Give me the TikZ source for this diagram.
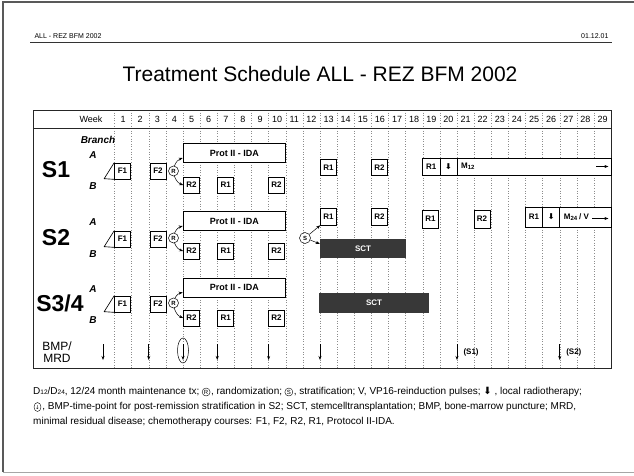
\documentclass[tikz,border=0pt]{standalone}
\usepackage{fontspec}
\setmainfont{Liberation Sans}
\newfontfamily\dejavu{DejaVu Sans}
\usetikzlibrary{arrows.meta,shapes.geometric}

\tikzset{
  gridline/.style={black!45, dash pattern=on 1pt off 1.6pt, line width=0.45pt},
  frameline/.style={black!85, line width=0.7pt},
  course/.style={draw, fill=white, line width=0.65pt, inner sep=0pt,
    minimum width=16pt, minimum height=16pt, font=\fontsize{8}{9}\selectfont\bfseries},
  cell/.style={course, minimum width=17.125pt},
  protbox/.style={draw, fill=white, line width=0.65pt, inner sep=0pt,
    minimum width=102.75pt, minimum height=19pt, font=\fontsize{9}{10}\selectfont\bfseries},
  sctbox/.style={fill=black!78, text=white, inner sep=0pt,
    minimum height=19pt, font=\fontsize{8}{9}\selectfont\bfseries},
  decision/.style={draw, circle, fill=white, line width=0.5pt, inner sep=0pt,
    minimum size=10pt, font=\fontsize{6}{6}\selectfont\bfseries},
  branchlabel/.style={font=\fontsize{10}{11}\selectfont\bfseries\itshape},
  stratum/.style={font=\fontsize{23}{24}\selectfont\bfseries},
  weeknum/.style={font=\fontsize{9}{10}\selectfont},
  flow/.style={-{Stealth[length=4pt,width=3pt]}, line width=0.5pt},
  bmparrow/.style={-{Stealth[length=4pt,width=3pt]}, line width=0.6pt},
  footnote/.style={anchor=west, inner sep=0pt, font=\fontsize{10}{11}\selectfont},
  legcircle/.style={draw, circle, line width=0.4pt, inner sep=0pt, minimum size=8pt,
    font=\fontsize{6}{6}\selectfont},
}
\def\gx{114.5}
\def\wk{17.125}

\begin{document}
\begin{tikzpicture}[x=1pt,y=-1pt]
\useasboundingbox (0,0) rectangle (634,475);

% page frame of the scan
\draw[black!65, line width=1.6pt] (634,2) -- (3,2) -- (3,472);
\draw[black!35, line width=1pt] (3,472) -- (634,472);

% page header and title
\node[anchor=west, font=\fontsize{7}{8}\selectfont] (hdl) at (31,36) {ALL - REZ BFM 2002};
\node[anchor=east, font=\fontsize{7}{8}\selectfont] (hdr) at (612,36) {01.12.01};
\draw[black!80, line width=0.6pt] (30,42.5) -- (612,42.5);
\node[font=\fontsize{21}{24}\selectfont] (title) at (320,74) {Treatment Schedule ALL - REZ BFM 2002};

% week grid
\foreach \i in {0,...,28}
  \draw[gridline] ({\gx+\i*\wk},110) -- ({\gx+\i*\wk},368);
\foreach \i in {1,...,29}
  \node[weeknum] at ({\gx+(\i-0.5)*\wk},119.5) {\i};
\draw[frameline] (33,110) rectangle (611.1,368);
\draw[frameline] (33,128) -- (611.1,128);
\node[weeknum] (week) at (91,119.5) {Week};
\node[branchlabel] (branch) at (98,140) {Branch};

% S1
\node[stratum] (s1) at (56,170) {S1};
\node[branchlabel] at (93,155) {A};
\node[branchlabel] at (93,186) {B};
\node[course] (f1a) at (122.5,171) {F1};
\draw[line width=0.65pt] (f1a.north west) -- ++(-10,16) -- (f1a.south west);
\node[course] (f2a) at (158,171) {F2};
\node[decision] (ra) at (173.5,171) {R};
\node[protbox] (pa) at (234.4,153) {Prot II - IDA};
\node[course] (ra1) at (191.5,185) {R2};
\node[course] (ra2) at (225.8,185) {R1};
\node[course] (ra3) at (276.5,185) {R2};
\draw[flow] (ra) to[bend left=25] ([yshift=-5pt]pa.west);
\draw[flow] (ra) to[bend right=25] (ra1.west);
\node[course] (ra4) at (328.5,167.5) {R1};
\node[course] (ra5) at (379.5,167.5) {R2};
\node[cell, minimum height=17pt] (ma1) at (431.3,166.5) {R1};
\node[cell, minimum height=17pt] (ma2) at (448.4,166.5) {\dejavu ⬇};
\node[course, minimum width=154.1pt, minimum height=17pt] (ma3) at (534.05,166.5) {};
\node[anchor=west, font=\fontsize{8}{9}\selectfont\bfseries] at ([xshift=1pt]ma3.west) {M\textsubscript{12}};
\draw[flow] ([xshift=-15pt]ma3.east) -- ([xshift=-3pt]ma3.east);

% S2
\node[stratum] (s2) at (56,238) {S2};
\node[branchlabel] at (93,222) {A};
\node[branchlabel] at (93,254) {B};
\node[course] (f1b) at (122.5,239) {F1};
\draw[line width=0.65pt] (f1b.north west) -- ++(-10,16) -- (f1b.south west);
\node[course] (f2b) at (158,239) {F2};
\node[decision] (rb) at (173.5,238) {R};
\node[protbox] (pb) at (234.4,221) {Prot II - IDA};
\node[course] (rb1) at (191.5,251) {R2};
\node[course] (rb2) at (225.8,251) {R1};
\node[course] (rb3) at (276.5,251) {R2};
\draw[flow] (rb) to[bend left=25] ([yshift=-5pt]pb.west);
\draw[flow] (rb) to[bend right=25] (rb1.west);
\node[decision, minimum size=11pt] (sb) at (305,238) {S};
\node[course, minimum height=17pt] (rb4) at (328.5,216.5) {R1};
\node[course, minimum height=17pt] (rb5) at (379.5,216.5) {R2};
\node[sctbox, minimum width=86pt] (sctb) at (363,248.5) {SCT};
\draw[flow] (sb) -- (rb4.south west);
\draw[flow] (sb) -- ([yshift=-5pt]sctb.north west);
\node[course, minimum height=18pt] (rb6) at (430.5,219) {R1};
\node[course, minimum height=18pt] (rb7) at (482,219) {R2};
\node[cell, minimum height=20pt] (mb1) at (534.06,217) {R1};
\node[cell, minimum height=20pt] (mb2) at (551.19,217) {\dejavu ⬇};
\node[course, minimum width=51.35pt, minimum height=20pt] (mb3) at (585.43,217) {};
\node[anchor=west, font=\fontsize{8}{9}\selectfont\bfseries] (mbt) at ([xshift=1pt]mb3.west) {M\textsubscript{24}\,/ V};
\draw[flow] ([yshift=-1.5pt]mbt.east) -- ([xshift=-3pt,yshift=-1.5pt]mb3.east);

% S3/4
\node[stratum] (s34) at (60,303) {S3/4};
\node[branchlabel] at (93,289) {A};
\node[branchlabel] at (93,320) {B};
\node[course] (f1c) at (122.5,304) {F1};
\draw[line width=0.65pt] (f1c.north west) -- ++(-10,16) -- (f1c.south west);
\node[course] (f2c) at (158,304) {F2};
\node[decision] (rc) at (173.5,303) {R};
\node[protbox] (pc) at (234.4,287.5) {Prot II - IDA};
\node[course] (rc1) at (191.5,318) {R2};
\node[course] (rc2) at (225.8,318) {R1};
\node[course] (rc3) at (276.5,318) {R2};
\draw[flow] (rc) to[bend left=25] ([yshift=-5pt]pc.west);
\draw[flow] (rc) to[bend right=25] (rc1.west);
\node[sctbox, minimum width=110pt, minimum height=20pt] (sctc) at (374,303) {SCT};

% BMP / MRD time points
\node[align=center, font=\fontsize{12}{12.5}\selectfont] (bmp) at (57,352) {BMP/\\MRD};
\draw[bmparrow] (103,344) -- (103,360);
\foreach \c in {2,4,6,9,12,20,26}
  \draw[bmparrow] ({\gx+\c*\wk},344) -- ({\gx+\c*\wk},360);
\draw[line width=0.5pt] ({\gx+4*\wk},350.5) ellipse (5.5 and 12.5);
\node[anchor=west, font=\fontsize{8}{9}\selectfont\bfseries] (st1) at ({\gx+20*\wk+3},352) {(S1)};
\node[anchor=west, font=\fontsize{8}{9}\selectfont\bfseries] (st2) at ({\gx+26*\wk+3},352) {(S2)};

% legend
\node[footnote] (leg1) at (33,392) {D{\fontsize{6.5}{6.5}\selectfont 12}/D{\fontsize{6.5}{6.5}\selectfont 24}, 12/24 month maintenance tx;};
\node[legcircle] (legr) at ([xshift=6.5pt]leg1.east) {R};
\node[footnote] (leg1b) at ([xshift=0.5pt]legr.east) {, randomization;};
\node[legcircle] (legs) at ([xshift=6.5pt]leg1b.east) {S};
\node[footnote] (leg1c) at ([xshift=0.5pt]legs.east) {, stratification; V, VP16-reinduction pulses; {\dejavu ⬇} , local radiotherapy;};
\node[draw, ellipse, line width=0.4pt, inner sep=0pt, minimum width=7pt, minimum height=9pt, font=\fontsize{5.5}{5.5}\selectfont] (legbmp) at (37.5,407) {\dejavu ↓};
\node[footnote] (leg2) at ([xshift=1pt]legbmp.east) {, BMP-time-point for post-remission stratification in S2; SCT, stemcelltransplantation; BMP, bone-marrow puncture; MRD,};
\node[footnote] (leg3) at (33,422) {minimal residual disease; chemotherapy courses: F1, F2, R2, R1, Protocol II-IDA.};
\end{tikzpicture}
\end{document}
